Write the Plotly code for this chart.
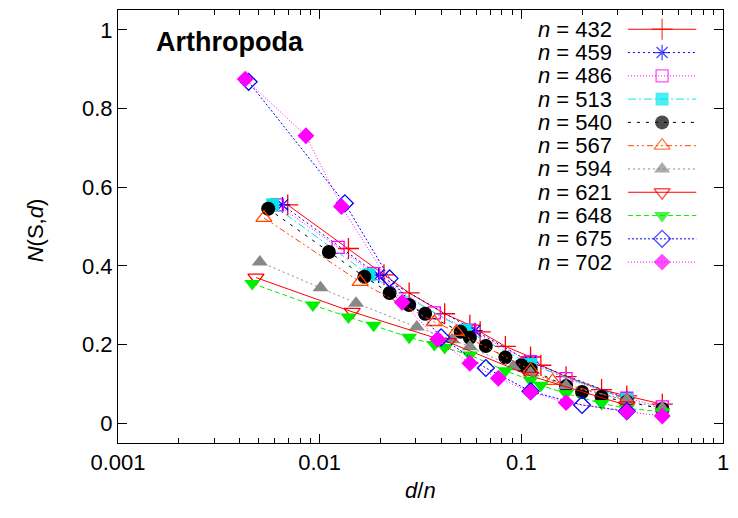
import plotly.graph_objects as go

# ---------------- data ----------------
series_n = [432, 459, 486, 513, 540, 567, 594, 621, 648, 675, 702]

d_432 = [3, 6, 9, 12, 18, 24, 27, 36, 48, 54, 72, 108, 144, 216]
N_432 = [0.555, 0.444, 0.377, 0.331, 0.278, 0.249, 0.232, 0.195, 0.168, 0.147, 0.118, 0.085, 0.069, 0.048]

d_459 = [3, 9, 27, 51, 153]
N_459 = [0.555, 0.376, 0.235, 0.155, 0.062]

d_486 = [3, 6, 9, 18, 27, 54, 81, 162, 243]
N_486 = [0.555, 0.447, 0.380, 0.280, 0.236, 0.156, 0.113, 0.063, 0.041]

d_513 = [3, 9, 27, 57, 171]
N_513 = [0.555, 0.377, 0.236, 0.149, 0.060]

d_540 = [3, 6, 9, 12, 15, 18, 27, 30, 36, 45, 54, 60, 90, 108, 135, 180, 270]
N_540 = [0.545, 0.435, 0.372, 0.331, 0.300, 0.278, 0.232, 0.217, 0.196, 0.167, 0.147,
         0.137, 0.094, 0.079, 0.067, 0.054, 0.036]

d_567 = [3, 9, 21, 27, 63, 81, 189]
N_567 = [0.522, 0.359, 0.257, 0.232, 0.135, 0.107, 0.058]

d_594 = [3, 6, 9, 18, 27, 33, 54, 66, 99, 198, 297]
N_594 = [0.410, 0.344, 0.305, 0.244, 0.212, 0.194, 0.143, 0.128, 0.095, 0.058, 0.038]

d_621 = [3, 9, 27, 69, 207]
N_621 = [0.370, 0.283, 0.206, 0.120, 0.045]

d_648 = [3, 6, 9, 12, 18, 24, 27, 36, 54, 72, 81, 108, 162, 216, 324]
N_648 = [0.355, 0.300, 0.270, 0.249, 0.218, 0.200, 0.192, 0.173, 0.133, 0.109, 0.096,
         0.075, 0.050, 0.037, 0.029]

d_675 = [3, 9, 15, 27, 45, 75, 135, 225]
N_675 = [0.868, 0.559, 0.368, 0.218, 0.140, 0.081, 0.046, 0.030]

d_702 = [3, 6, 9, 18, 27, 39, 54, 78, 117, 234, 351]
N_702 = [0.875, 0.731, 0.551, 0.307, 0.213, 0.152, 0.114, 0.079, 0.052, 0.029, 0.018]

series_d = [d_432, d_459, d_486, d_513, d_540, d_567, d_594, d_621, d_648, d_675, d_702]
series_N = [N_432, N_459, N_486, N_513, N_540, N_567, N_594, N_621, N_648, N_675, N_702]

x_tick_vals = [0.001, 0.01, 0.1, 1]
x_tick_text = ["0.001", "0.01", "0.1", "1"]
x_minor_vals = [m * 10 ** e for e in (-3, -2, -1) for m in range(2, 10)]
y_tick_vals = [0, 0.2, 0.4, 0.6, 0.8, 1]
y_tick_text = ["0", "0.2", "0.4", "0.6", "0.8", "1"]

# ---------------- styles ----------------
styles = [
    dict(color="#ff0000", dash="solid", symbol="cross-thin", size=15, filled=False),
    dict(color="#0000ff", dash="2px,3px", symbol="asterisk", size=13, filled=False),
    dict(color="#ff00ff", dash="1px,2px", symbol="square-open", size=12, filled=False),
    dict(color="#00e5ee", dash="8px,3px,2px,3px", symbol="square", size=13, filled=True),
    dict(color="#000000", dash="3px,6px", symbol="circle", size=14, filled=True),
    dict(color="#ff4500", dash="6px,3px,2px,3px,2px,3px", symbol="triangle-up-open", size=14, filled=False),
    dict(color="#888888", dash="2px,3px", symbol="triangle-up", size=14, filled=True),
    dict(color="#ff0000", dash="solid", symbol="triangle-down-open", size=14, filled=False),
    dict(color="#00ee00", dash="5px,3px", symbol="triangle-down", size=14, filled=True),
    dict(color="#0000ff", dash="2px,2px", symbol="diamond-open", size=13, filled=False),
    dict(color="#ff00ff", dash="1px,2px", symbol="diamond", size=13, filled=True),
]

FONT = "Liberation Sans, Arial, Helvetica, sans-serif"
L, R, T, B = 118, 9, 9, 75
W, H = 738, 518
PW, PH = W - L - R, H - T - B

fig = go.Figure()

for n, ds, ys, st in zip(series_n, series_d, series_N, styles):
    xs = [d / n for d in ds]
    fig.add_trace(go.Scatter(
        x=xs, y=ys, mode="lines+markers", showlegend=False,
        line=dict(color=st["color"], width=1, dash=st["dash"]),
        marker=dict(symbol=st["symbol"], size=st["size"], color=st["color"],
                    line=dict(color=st["color"], width=1.3 if not st["filled"] else 0)),
    ))

# ---------------- manual legend (gnuplot style: text left, sample right) ----------------
leg_x0 = (633 - L) / PW
leg_xm = (667.5 - L) / PW
leg_x1 = (702 - L) / PW
txt_x = (619 - L) / PW
for i, (n, st) in enumerate(zip(series_n, styles)):
    py = 28.3 + 23.34 * i
    yv = (H - B - py) / PH
    fig.add_trace(go.Scatter(
        x=[leg_x0, leg_xm, leg_x1], y=[yv, yv, yv], xaxis="x2", yaxis="y2",
        mode="lines+markers", showlegend=False, hoverinfo="skip",
        line=dict(color=st["color"], width=1, dash=st["dash"]),
        marker=dict(symbol=st["symbol"], size=[0, st["size"], 0], color=st["color"],
                    line=dict(color=st["color"], width=1.3 if not st["filled"] else 0)),
    ))
    fig.add_annotation(x=txt_x, y=yv, xref="paper", yref="paper", xanchor="right",
                       yanchor="middle", showarrow=False,
                       text=f"<i>n</i> = {n}", font=dict(family=FONT, size=22, color="black"))

# title inside plot
fig.add_annotation(x=(154 - L) / PW, y=(H - B - 41) / PH, xref="paper", yref="paper",
                   xanchor="left", yanchor="middle", showarrow=False,
                   text="<b>Arthropoda</b>", font=dict(family=FONT, size=27, color="black"))

# axis titles
fig.add_annotation(x=(424 - L) / PW, y=(H - B - 491) / PH, xref="paper", yref="paper",
                   xanchor="center", yanchor="middle", showarrow=False,
                   text="<i>d</i>/<i>n</i>", font=dict(family=FONT, size=22, color="black"))
fig.add_annotation(x=(35 - L) / PW, y=(H - B - 230) / PH, xref="paper", yref="paper",
                   xanchor="center", yanchor="middle", showarrow=False, textangle=-90,
                   text="<i>N</i>(S,<i>d</i>)", font=dict(family=FONT, size=22, color="black"))

fig.update_layout(
    width=W, height=H,
    margin=dict(l=L, r=R, t=T, b=B),
    paper_bgcolor="white", plot_bgcolor="white",
    font=dict(family=FONT, size=22, color="black"),
    xaxis=dict(type="log", range=[-3, 0], showgrid=False, zeroline=False,
               showline=True, linecolor="black", linewidth=1, mirror="ticks",
               ticks="inside", ticklen=9, tickcolor="black", tickwidth=1,
               tickmode="array", tickvals=x_tick_vals, ticktext=x_tick_text,
               minor=dict(ticks="inside", ticklen=5, tickcolor="black", tickwidth=1,
                          tickmode="array", tickvals=x_minor_vals, showgrid=False),
               tickfont=dict(family=FONT, size=22, color="black")),
    yaxis=dict(range=[-0.0508, 1.0508], showgrid=False, zeroline=False,
               showline=True, linecolor="black", linewidth=1, mirror="ticks",
               ticks="inside", ticklen=9, tickcolor="black", tickwidth=1,
               tickmode="array", tickvals=y_tick_vals, ticktext=y_tick_text,
               tickfont=dict(family=FONT, size=22, color="black")),
    xaxis2=dict(overlaying="x", range=[0, 1], visible=False, fixedrange=True),
    yaxis2=dict(overlaying="y", range=[0, 1], visible=False, fixedrange=True),
)

fig.write_html("out.html")
